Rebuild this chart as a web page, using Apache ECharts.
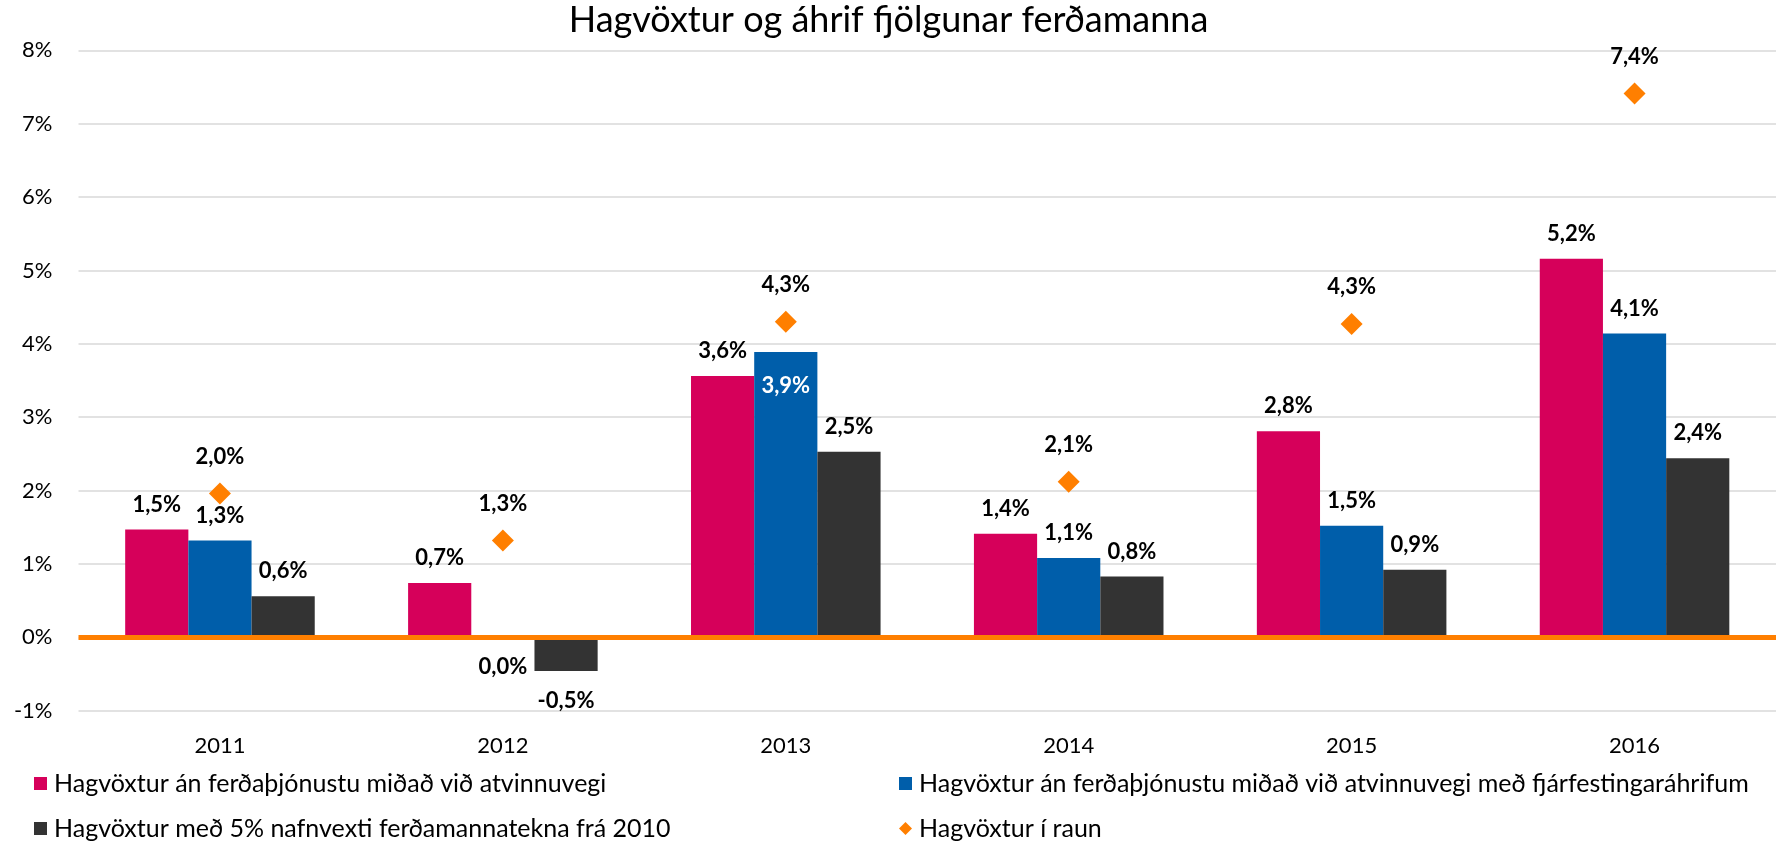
<!DOCTYPE html>
<html>
<head>
<meta charset="utf-8">
<title>Hagvöxtur og áhrif fjölgunar ferðamanna</title>
<script src="https://cdn.jsdelivr.net/npm/echarts@6/dist/echarts.min.js"></script>
<style>
  html, body { margin: 0; padding: 0; background: #fff; }
  #chart { width: 1777px; height: 844px; }
</style>
</head>
<body>
<div id="chart"></div>
<script>
// data (percent)
const years = ['2011', '2012', '2013', '2014', '2015', '2016']
const seriesNames = [
  'Hagvöxtur án ferðaþjónustu miðað við atvinnuvegi',
  'Hagvöxtur án ferðaþjónustu miðað við atvinnuvegi með fjárfestingaráhrifum',
  'Hagvöxtur með 5% nafnvexti ferðamannatekna frá 2010',
  'Hagvöxtur í raun'
]
const withoutTourism = [1.47, 0.74, 3.56, 1.41, 2.81, 5.16]
const withInvestment = [1.32, 0.0, 3.89, 1.08, 1.52, 4.14]
const fivePercent = [0.56, -0.46, 2.53, 0.83, 0.92, 2.44]
const actualGrowth = [1.96, 1.32, 4.30, 2.12, 4.27, 7.41]
const yTicks = { min: -1, max: 8, step: 1 }

const colors = ['#d6005a', '#005eaa', '#333333', '#ff7f00']
const font = 'Lato, "Open Sans", sans-serif'

function pct(p) {
  return p.value.toFixed(1).replace('.', ',') + '%'
}

const dataLabel = {
  show: true,
  position: 'top',
  distance: 14,
  formatter: pct,
  fontFamily: font,
  fontSize: 22,
  fontWeight: 'bold',
  color: '#000'
}

// zero and negative values get their label under the axis
function barData(values, special) {
  return values.map((v, i) => {
    if (special && special[i]) return { value: v, label: special[i] }
    if (v <= 0) return { value: v, label: { position: 'bottom', distance: 19 } }
    return v
  })
}

const legendText = { fontFamily: font, fontSize: 25, color: '#000', padding: [0, 0, 0, 2] }
const legendBase = {
  orient: 'vertical',
  top: 771,
  height: 73,
  padding: 0,
  itemGap: 20,
  itemWidth: 13,
  itemHeight: 13,
  textStyle: legendText
}

const chart = echarts.init(document.getElementById('chart'))
chart.setOption({
  animation: false,
  textStyle: { fontFamily: font },
  title: {
    text: 'Hagvöxtur og áhrif fjölgunar ferðamanna',
    left: 'center',
    top: 2,
    padding: 0,
    textStyle: { fontFamily: font, fontSize: 36, fontWeight: 'normal', color: '#000' }
  },
  legend: [
    Object.assign({}, legendBase, {
      left: 34,
      data: [{ name: seriesNames[0], icon: 'rect' }, { name: seriesNames[2], icon: 'rect' }]
    }),
    Object.assign({}, legendBase, {
      left: 899,
      data: [{ name: seriesNames[1], icon: 'rect' }, { name: seriesNames[3], icon: 'diamond' }]
    })
  ],
  grid: { left: 78.5, right: 1, top: 50.3, bottom: 133.3 },
  xAxis: {
    type: 'category',
    data: years,
    axisLine: { show: false, onZero: false },
    axisTick: { show: false },
    axisLabel: { margin: 24, fontFamily: font, fontSize: 22, color: '#000' }
  },
  yAxis: {
    type: 'value',
    min: yTicks.min,
    max: yTicks.max,
    interval: yTicks.step,
    axisLine: { show: false },
    axisTick: { show: false },
    axisLabel: { formatter: '{value}%', margin: 26, fontFamily: font, fontSize: 22, color: '#000' },
    splitLine: { lineStyle: { color: '#d9d9d9', width: 1.5 } }
  },
  series: [
    {
      name: seriesNames[0],
      type: 'bar',
      barGap: '0%',
      barCategoryGap: '33%',
      itemStyle: { color: colors[0] },
      label: dataLabel,
      data: barData(withoutTourism)
    },
    {
      name: seriesNames[1],
      type: 'bar',
      itemStyle: { color: colors[1] },
      label: dataLabel,
      data: barData(withInvestment, { 2: { position: 'insideTop', distance: 23, color: '#fff' } })
    },
    {
      name: seriesNames[2],
      type: 'bar',
      itemStyle: { color: colors[2] },
      label: dataLabel,
      data: barData(fivePercent)
    },
    {
      name: seriesNames[3],
      type: 'scatter',
      symbol: 'diamond',
      symbolSize: 22,
      itemStyle: { color: colors[3], opacity: 1 },
      label: Object.assign({}, dataLabel, { distance: 15 }),
      data: actualGrowth,
      z: 3,
      markLine: {
        silent: true,
        symbol: 'none',
        label: { show: false },
        lineStyle: { color: colors[3], width: 5, type: 'solid', opacity: 1 },
        data: [{ yAxis: 0 }]
      }
    }
  ]
})
</script>
</body>
</html>
